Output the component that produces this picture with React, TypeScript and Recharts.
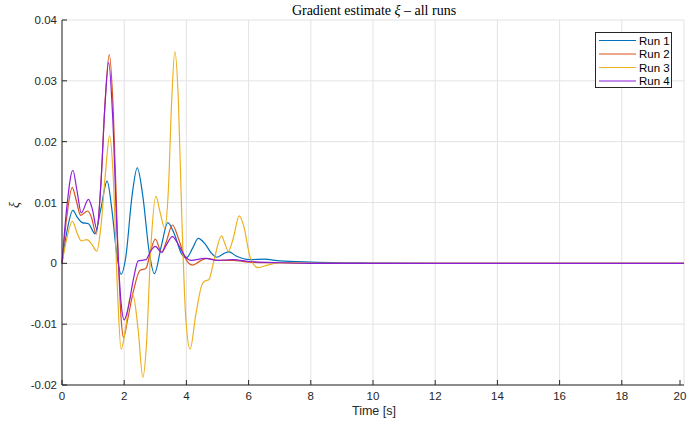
import React from "react";
import { CartesianGrid, Line, LineChart, XAxis, YAxis } from "recharts";

// Time points [s] and gradient estimates for each run
const run1Time = [0, 0.15, 0.35, 0.5, 0.65, 0.85, 1.06, 1.25, 1.45, 1.6, 1.75, 1.9, 2.05, 2.25, 2.42, 2.6, 2.8, 2.97, 3.2, 3.4, 3.6, 3.85, 4.0, 4.2, 4.38, 4.6, 4.8, 4.98, 5.2, 5.37, 5.6, 6.05, 6.5, 7, 8, 9, 10, 12, 20];
const run1Value = [0, 0.005, 0.0087, 0.0075, 0.0067, 0.0065, 0.0049, 0.009, 0.0135, 0.009, 0.002, -0.0018, 0.001, 0.011, 0.0157, 0.011, 0.002, -0.0017, 0.003, 0.0067, 0.005, 0.0015, 0.0009, 0.0025, 0.0041, 0.0032, 0.0017, 0.001, 0.0016, 0.0019, 0.0012, 0.0006, 0.0007, 0.0004, 0.0002, 0.0001, 0.00005, 0, 0];

const run2Time = [0, 0.15, 0.33, 0.45, 0.6, 0.83, 0.95, 1.1, 1.25, 1.38, 1.52, 1.65, 1.78, 1.9, 1.98, 2.1, 2.3, 2.5, 2.7, 2.85, 3.0, 3.2, 3.35, 3.55, 3.75, 3.95, 4.2, 4.45, 4.65, 5.0, 5.5, 6, 7, 8, 20];
const run2Value = [0, 0.0075, 0.0125, 0.0105, 0.0079, 0.0086, 0.0075, 0.0048, 0.013, 0.026, 0.0343, 0.025, 0.005, -0.009, -0.0122, -0.0095, -0.0045, -0.0012, -0.0008, 0.002, 0.004, 0.0018, 0.0035, 0.0063, 0.004, 0.001, -0.0003, 0.0004, 0.0008, 0.0005, 0.0005, 0.0002, 0.0001, 0, 0];

const run3Time = [0, 0.15, 0.33, 0.5, 0.62, 0.8, 0.95, 1.12, 1.25, 1.4, 1.53, 1.65, 1.78, 1.9, 2.05, 2.17, 2.28, 2.45, 2.6, 2.72, 2.85, 3.02, 3.15, 3.3, 3.42, 3.52, 3.63, 3.74, 3.85, 3.98, 4.12, 4.3, 4.5, 4.6, 4.72, 4.9, 5.13, 5.22, 5.35, 5.5, 5.7, 5.85, 6.05, 6.3, 6.6, 7, 8, 20];
const run3Value = [0, 0.004, 0.0069, 0.0048, 0.0037, 0.0039, 0.0032, 0.002, 0.006, 0.015, 0.021, 0.014, -0.004, -0.0141, -0.0105, -0.006, -0.0052, -0.011, -0.0187, -0.013, 0.002, 0.011, 0.0085, 0.0058, 0.012, 0.026, 0.0348, 0.027, 0.008, -0.009, -0.0141, -0.0085, -0.0035, -0.0029, -0.0027, 0.0008, 0.0045, 0.0035, 0.002, 0.004, 0.0078, 0.006, 0.001, -0.0007, -0.0003, 0.0001, 0, 0];

const run4Time = [0, 0.15, 0.35, 0.48, 0.62, 0.85, 0.98, 1.12, 1.25, 1.37, 1.5, 1.63, 1.77, 1.9, 2.0, 2.12, 2.3, 2.45, 2.7, 2.85, 3.0, 3.2, 3.35, 3.55, 3.75, 3.95, 4.15, 4.6, 5.0, 5.5, 6.0, 7, 8, 20];
const run4Value = [0, 0.009, 0.0153, 0.012, 0.0083, 0.0105, 0.0088, 0.0056, 0.013, 0.025, 0.033, 0.024, 0.005, -0.0065, -0.0093, -0.0075, -0.0025, 0.0004, 0.0006, 0.002, 0.0028, 0.0018, 0.003, 0.0044, 0.003, 0.0012, 0.0005, 0.0008, 0.0005, 0.0006, 0.0003, 0.0001, 0, 0];

const runNames = ["Run 1", "Run 2", "Run 3", "Run 4"];
const runColors = ["#0072BD", "#D95319", "#EDB120", "#8B1FD8"];

const xTicks = [0, 2, 4, 6, 8, 10, 12, 14, 16, 18, 20];
const yTicks = [-0.02, -0.01, 0, 0.01, 0.02, 0.03, 0.04];
const yTickLabels = ["-0.02", "-0.01", "0", "0.01", "0.02", "0.03", "0.04"];

const toPoints = (t: number[], v: number[]) => t.map((time, i) => ({ t: time, v: v[i] }));
const runs = [
  toPoints(run1Time, run1Value),
  toPoints(run2Time, run2Value),
  toPoints(run3Time, run3Value),
  toPoints(run4Time, run4Value),
];

const axisColor = "#262626";
const sans = "'Liberation Sans', Arial, sans-serif";
const serif = "'Liberation Serif', 'Times New Roman', serif";

const XTick = (props: any) => {
  const { x, y, payload } = props;
  return (
    <g>
      <line x1={x} x2={x} y1={y} y2={y - 5} stroke={axisColor} strokeWidth={1} />
      <text x={x} y={y + 15} textAnchor="middle" fontSize={11.5} fill={axisColor} fontFamily={sans}>
        {payload.value}
      </text>
    </g>
  );
};

const YTick = (props: any) => {
  const { x, y, payload } = props;
  const idx = yTicks.findIndex((t) => Math.abs(t - payload.value) < 1e-9);
  return (
    <g>
      <line x1={x} x2={x + 5} y1={y} y2={y} stroke={axisColor} strokeWidth={1} />
      <text x={x - 5} y={y + 4} textAnchor="end" fontSize={11.5} fill={axisColor} fontFamily={sans}>
        {idx >= 0 ? yTickLabels[idx] : payload.value}
      </text>
    </g>
  );
};

export default function App() {
  return (
    <div style={{ position: "absolute", left: 0, top: 0, width: 688, height: 423, background: "#fff" }}>
      <LineChart width={688} height={423} margin={{ top: 20, right: 4, bottom: 0, left: 0 }}>
        <CartesianGrid stroke="#e3e3e3" strokeWidth={1} />
        <XAxis
          type="number"
          dataKey="t"
          domain={[0, 20]}
          ticks={xTicks}
          height={38}
          tickSize={0}
          tickMargin={0}
          tick={<XTick />}
          axisLine={{ stroke: axisColor }}
          allowDuplicatedCategory={false}
        />
        <YAxis
          type="number"
          dataKey="v"
          domain={[-0.02, 0.04]}
          ticks={yTicks}
          width={62}
          tickSize={0}
          tickMargin={0}
          tick={<YTick />}
          axisLine={{ stroke: axisColor }}
        />
        {runs.map((data, i) => (
          <Line
            key={runNames[i]}
            data={data}
            dataKey="v"
            name={runNames[i]}
            type="monotone"
            stroke={runColors[i]}
            strokeWidth={1.2}
            dot={false}
            isAnimationActive={false}
          />
        ))}
        <text x={374} y={15} textAnchor="middle" fontSize={14} fill="#000" fontFamily={serif}>
          Gradient estimate <tspan fontStyle="italic">ξ</tspan> – all runs
        </text>
        <text x={374} y={415} textAnchor="middle" fontSize={12.5} fill={axisColor} fontFamily={sans}>
          Time [s]
        </text>
        <text
          x={19}
          y={205}
          textAnchor="middle"
          fontSize={14}
          fontStyle="italic"
          fill={axisColor}
          fontFamily={serif}
          transform="rotate(-90 19 205)"
        >
          ξ
        </text>
      </LineChart>
      <svg
        width={77}
        height={56}
        style={{ position: "absolute", left: 595, top: 32 }}
      >
        <rect x={0.5} y={0.5} width={76} height={55} fill="#fff" stroke={axisColor} strokeWidth={1} />
        {runNames.map((name, i) => (
          <g key={name}>
            <line x1={4} x2={41} y1={8.5 + i * 13.5} y2={8.5 + i * 13.5} stroke={runColors[i]} strokeWidth={1.2} />
            <text x={44} y={12.5 + i * 13.5} fontSize={11.5} fill="#000" fontFamily={sans}>
              {name}
            </text>
          </g>
        ))}
      </svg>
    </div>
  );
}
